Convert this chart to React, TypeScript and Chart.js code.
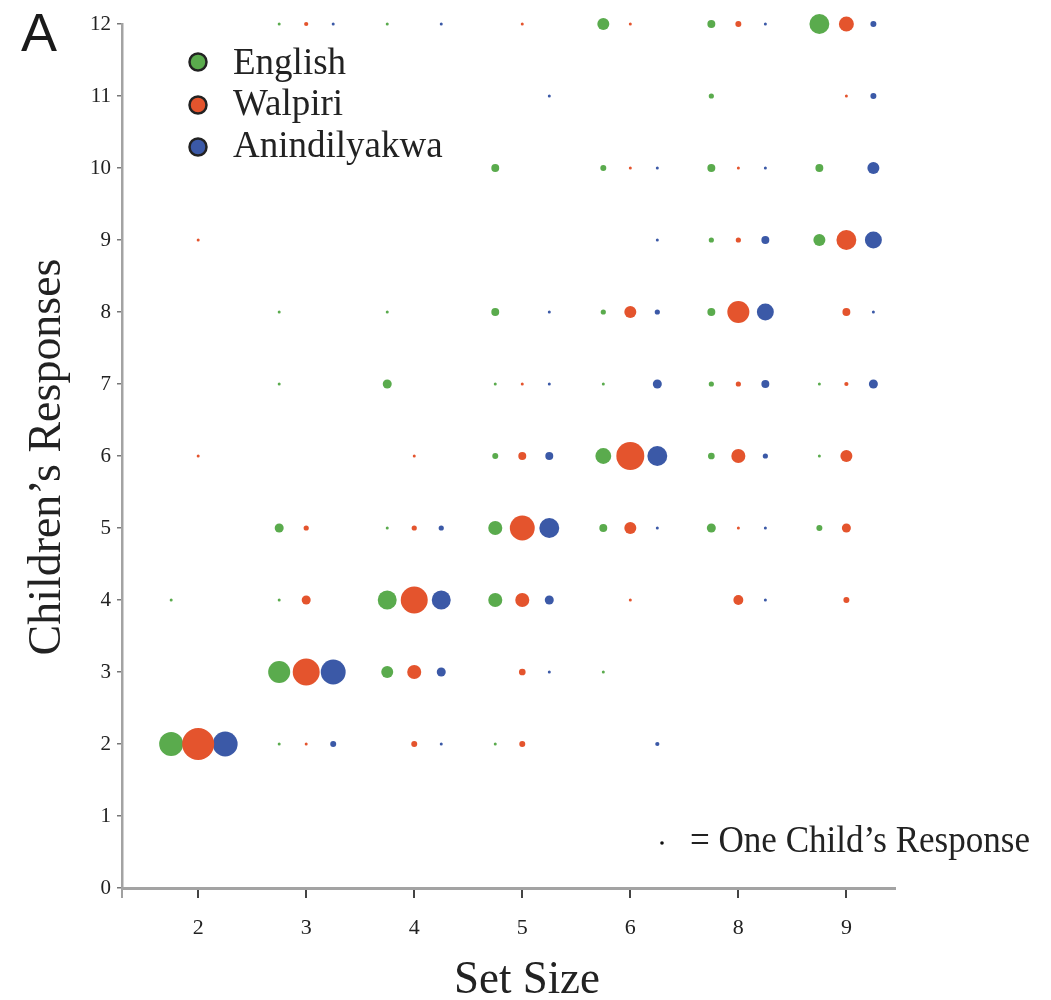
import React, { useEffect, useRef } from "react";
import { Chart, registerables } from "chart.js";

Chart.register(...registerables);

// Category axis: set sizes shown to the children
const setSizes = [2, 3, 4, 5, 6, 8, 9];
// Response axis ticks
const responseTicks = [0, 1, 2, 3, 4, 5, 6, 7, 8, 9, 10, 11, 12];

// [set size, response, number of responses]
const englishData: [number, number, number][] = [
  [2, 2, 64], [2, 4, 1],
  [3, 12, 1], [3, 8, 1], [3, 7, 1], [3, 5, 9], [3, 4, 1], [3, 3, 54], [3, 2, 1],
  [4, 12, 1], [4, 8, 1], [4, 7, 9], [4, 5, 1], [4, 4, 40], [4, 3, 16],
  [5, 10, 7], [5, 8, 7], [5, 7, 1], [5, 6, 4], [5, 5, 22], [5, 4, 22], [5, 2, 1],
  [6, 12, 16], [6, 10, 4], [6, 8, 3], [6, 7, 1], [6, 6, 28], [6, 5, 7], [6, 3, 1],
  [8, 12, 7], [8, 11, 3], [8, 10, 7], [8, 9, 3], [8, 8, 7], [8, 7, 3], [8, 6, 5], [8, 5, 9],
  [9, 12, 44], [9, 10, 7], [9, 9, 16], [9, 7, 1], [9, 6, 1], [9, 5, 4],
];

const walpiriData: [number, number, number][] = [
  [2, 9, 1], [2, 6, 1], [2, 2, 114],
  [3, 12, 2], [3, 5, 3], [3, 4, 9], [3, 3, 81], [3, 2, 1],
  [4, 6, 1], [4, 5, 3], [4, 4, 81], [4, 3, 22], [4, 2, 4],
  [5, 12, 1], [5, 7, 1], [5, 6, 7], [5, 5, 69], [5, 4, 22], [5, 3, 5], [5, 2, 4],
  [6, 12, 1], [6, 10, 1], [6, 8, 16], [6, 6, 87], [6, 5, 16], [6, 4, 1],
  [8, 12, 4], [8, 10, 1], [8, 9, 3], [8, 8, 54], [8, 7, 3], [8, 6, 22], [8, 5, 1], [8, 4, 11],
  [9, 12, 25], [9, 11, 1], [9, 9, 44], [9, 8, 7], [9, 7, 2], [9, 6, 16], [9, 5, 9], [9, 4, 4],
];

const anindilyakwaData: [number, number, number][] = [
  [2, 2, 69],
  [3, 12, 1], [3, 3, 69], [3, 2, 4],
  [4, 12, 1], [4, 5, 3], [4, 4, 40], [4, 3, 9], [4, 2, 1],
  [5, 11, 1], [5, 8, 1], [5, 7, 1], [5, 6, 7], [5, 5, 44], [5, 4, 9], [5, 3, 1],
  [6, 10, 1], [6, 9, 1], [6, 8, 3], [6, 7, 9], [6, 6, 44], [6, 5, 1], [6, 2, 2],
  [8, 12, 1], [8, 10, 1], [8, 9, 7], [8, 8, 32], [8, 7, 7], [8, 6, 3], [8, 5, 1], [8, 4, 1],
  [9, 12, 4], [9, 11, 4], [9, 10, 16], [9, 9, 32], [9, 8, 1], [9, 7, 9],
];

const seriesNames = ["English", "Walpiri", "Anindilyakwa"];
const seriesColors = ["#5aab4d", "#e4542d", "#3b59a7"];

const SERIF = "'Liberation Serif', 'Times New Roman', serif";

function toPoints(rows: [number, number, number][], offset: number) {
  return rows.map(([s, resp, n]) => ({
    x: setSizes.indexOf(s) + offset,
    y: resp,
    r: 1.5 * Math.sqrt(n),
  }));
}

const extrasPlugin = {
  id: "extras",
  afterDraw(chart: any) {
    const ctx = chart.ctx as CanvasRenderingContext2D;
    ctx.save();
    // Panel letter
    ctx.fillStyle = "#1a1a1a";
    ctx.font = "54px 'Liberation Sans', Arial, sans-serif";
    ctx.textAlign = "left";
    ctx.textBaseline = "alphabetic";
    ctx.fillText("A", 21, 51);

    // Legend
    const ly = [62, 105, 147];
    const lb = [74, 115, 157];
    seriesNames.forEach((name, i) => {
      ctx.beginPath();
      ctx.arc(198, ly[i], 8.5, 0, Math.PI * 2);
      ctx.fillStyle = seriesColors[i];
      ctx.fill();
      ctx.lineWidth = 2.5;
      ctx.strokeStyle = "#222";
      ctx.stroke();
      ctx.fillStyle = "#222";
      ctx.font = `37px ${SERIF}`;
      ctx.textAlign = "left";
      ctx.fillText(name, 233, lb[i]);
    });

    // Axis titles
    ctx.fillStyle = "#222";
    ctx.font = `46px ${SERIF}`;
    ctx.textAlign = "center";
    ctx.fillText("Set Size", 527, 993, 146);

    ctx.save();
    ctx.translate(60, 457);
    ctx.rotate(-Math.PI / 2);
    ctx.fillText("Children\u2019s Responses", 0, 0, 397);
    ctx.restore();

    // One child's response key
    ctx.beginPath();
    ctx.arc(662, 843, 1.8, 0, Math.PI * 2);
    ctx.fillStyle = "#111";
    ctx.fill();
    ctx.fillStyle = "#222";
    ctx.font = `37px ${SERIF}`;
    ctx.textAlign = "left";
    ctx.fillText("= One Child\u2019s Response", 690, 852, 340);
    ctx.restore();
  },
};

export default function App() {
  const canvasRef = useRef<HTMLCanvasElement | null>(null);

  useEffect(() => {
    document.body.style.margin = "0";
    document.body.style.overflow = "hidden";
    const canvas = canvasRef.current;
    if (!canvas) return;
    const offsets = [-0.25, 0, 0.25];
    const allData = [englishData, walpiriData, anindilyakwaData];
    const chart = new Chart(canvas, {
      type: "bubble",
      data: {
        datasets: allData.map((rows, i) => ({
          label: seriesNames[i],
          data: toPoints(rows, offsets[i]),
          backgroundColor: seriesColors[i],
          borderWidth: 0,
          hoverBorderWidth: 0,
          clip: false as any,
          order: i === 1 ? 0 : i === 0 ? 1 : 2,
        })),
      },
      options: {
        responsive: false,
        animation: false,
        devicePixelRatio: 1,
        layout: { padding: { left: 0, right: 156, top: 24, bottom: 0 } },
        plugins: {
          legend: { display: false },
          tooltip: { enabled: false },
        },
        scales: {
          x: {
            type: "linear",
            min: -0.705,
            max: 6.45,
            afterBuildTicks: (scale: any) => {
              scale.ticks = [-0.705, ...setSizes.map((_, i) => i)].map((v) => ({ value: v }));
            },
            afterFit: (scale: any) => {
              scale.height = 112;
            },
            ticks: {
              autoSkip: false,
              maxRotation: 0,
              padding: 17,
              color: "#222",
              font: { family: SERIF, size: 22 },
              callback: (v: any) => (Number.isInteger(v) ? String(setSizes[v]) : ""),
            },
            grid: {
              drawOnChartArea: false,
              drawTicks: true,
              tickLength: 10,
              color: (c: any) => (c.tick && Number.isInteger(c.tick.value) ? "#444" : "#a0a0a0"),
              lineWidth: 2,
            },
            border: { display: true, color: "#a3a3a3", width: 3 },
          },
          y: {
            type: "linear",
            min: responseTicks[0],
            max: responseTicks[responseTicks.length - 1],
            afterBuildTicks: (scale: any) => {
              scale.ticks = responseTicks.map((v) => ({ value: v }));
            },
            afterFit: (scale: any) => {
              scale.width = 122;
            },
            ticks: {
              padding: 6,
              color: "#222",
              font: { family: SERIF, size: 21 },
            },
            grid: {
              drawOnChartArea: false,
              drawTicks: true,
              tickLength: 5,
              color: "#777",
              lineWidth: 1.5,
            },
            border: { display: true, color: "#a3a3a3", width: 2.5 },
          },
        },
      } as any,
      plugins: [extrasPlugin],
    });
    return () => chart.destroy();
  }, []);

  return (
    <div style={{ width: 1051, height: 1000 }}>
      <canvas ref={canvasRef} width={1051} height={1000} />
    </div>
  );
}
